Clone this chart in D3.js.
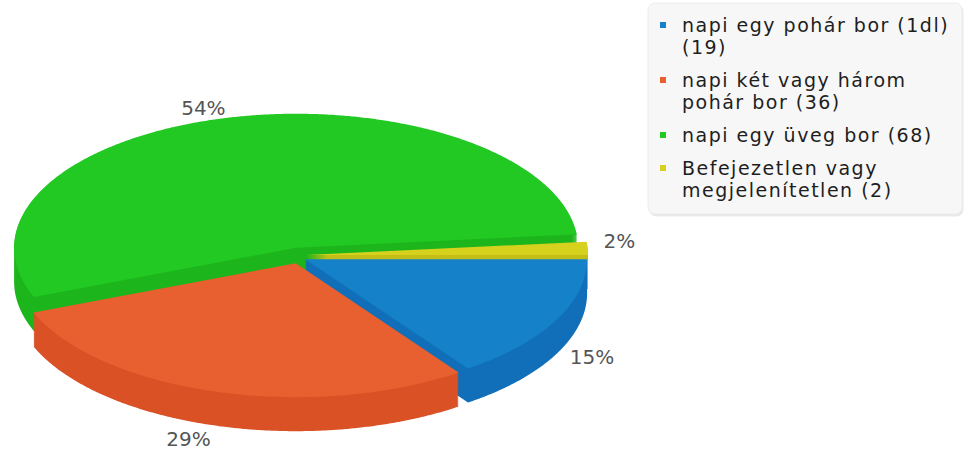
<!DOCTYPE html>
<html>
<head>
<meta charset="utf-8">
<script src="https://cdn.jsdelivr.net/npm/d3@7"></script>
<style>
  html, body { margin: 0; padding: 0; background: #ffffff; }
  svg { display: block; }
  text { font-family: "DejaVu Sans", sans-serif; }
</style>
</head>
<body>
<svg id="chart" width="966" height="452"></svg>
<script>
// Answers and their counts
const categories = [
  "napi egy pohár bor (1dl)",
  "napi két vagy három pohár bor",
  "napi egy üveg bor",
  "Befejezetlen vagy megjelenítetlen"
];
const counts = [19, 36, 68, 2];

// Slice colours: top face and darker extruded side
const topColors  = ["#1581c9", "#e8602f", "#22c922", "#d6d11c"];
const sideColors = ["#106fb8", "#da5126", "#1cb51c", "#c3be15"];

// Pie geometry (flattened 3D disc)
const cx = 298, cy = 255.5;    // centre of the disc
const rx = 282, ry = 134;      // horizontal / vertical radius
const depth = 34;              // thickness of the disc
const explode = 8;             // distance every slice is pulled out

const svg = d3.select("#chart");
const total = d3.sum(counts);

// Angles run clockwise from 3 o'clock
const pie = d3.pie().sort(null)
  .startAngle(Math.PI / 2)
  .endAngle(Math.PI / 2 + 2 * Math.PI);
const arcs = pie(counts);

// Unit circle -> screen ellipse
const xScale = d3.scaleLinear().domain([-1, 1]).range([cx - rx, cx + rx]);
const yScale = d3.scaleLinear().domain([-1, 1]).range([cy - ry, cy + ry]);

const slices = arcs.map((a, i) => {
  const t0 = a.startAngle - Math.PI / 2;
  const t1 = a.endAngle - Math.PI / 2;
  const m = (t0 + t1) / 2;
  const dx = explode * Math.cos(m), dy = explode * Math.sin(m);
  const apex = [cx + dx, cy + dy];
  const pts = [apex];
  const n = Math.max(2, Math.ceil((t1 - t0) / (0.4 * Math.PI / 180)));
  for (let k = 0; k <= n; k++) {
    const t = t0 + (t1 - t0) * k / n;
    pts.push([xScale(Math.cos(t)) + dx, yScale(Math.sin(t)) + dy]);
  }
  return { i, m, dx, dy, apex, pts, value: a.value };
});

const ring = (pts, off) =>
  "M" + pts.map(p => p[0].toFixed(2) + "," + (p[1] + off).toFixed(2)).join("L") + "Z";

// Back slices first so the front ones cover them
const order = slices.slice().sort((a, b) => Math.sin(a.m) - Math.sin(b.m));

const pieG = svg.append("g");
order.forEach(s => {
  let side = "";
  for (let off = depth; off >= 1; off--) side += ring(s.pts, off);
  pieG.append("path").attr("d", side).attr("fill", sideColors[s.i]);
  pieG.append("path").attr("d", ring(s.pts, 0)).attr("fill", topColors[s.i]);
});

// Percentage labels around the disc
const labelRx = rx + 16;
slices.forEach(s => {
  const pct = Math.round(s.value / total * 100) + "%";
  const c = Math.cos(s.m), sn = Math.sin(s.m);
  const x = cx + s.dx + c * labelRx;
  const y = sn > 0
    ? cy + s.dy + sn * (ry + 21) + depth      // below the front rim
    : cy + s.dy + sn * (ry + 3);              // above the back rim
  svg.append("text")
    .attr("x", x).attr("y", y)
    .attr("text-anchor", c < 0 ? "end" : "start")
    .attr("font-size", 20)
    .attr("fill", "#555555")
    .text(pct);
});

// Legend
const legend = svg.append("g");
legend.append("rect")
  .attr("x", 649.5).attr("y", 4.5).attr("width", 314).attr("height", 212)
  .attr("rx", 7).attr("fill", "#e9e9e9");
legend.append("rect")
  .attr("x", 648).attr("y", 3).attr("width", 314).attr("height", 211)
  .attr("rx", 7).attr("fill", "#f7f7f7").attr("stroke", "#ececec");

const fontSize = 19, spacing = 1.5;
const textX = 682, maxWidth = 282, lineH = 22, entryGap = 11;
let baseY = 32;
categories.forEach((cat, i) => {
  const words = (cat + " (" + counts[i] + ")").split(" ");
  const lines = [];
  let cur = "";
  const probe = legend.append("text")
    .attr("font-size", fontSize).attr("letter-spacing", spacing);
  words.forEach(w => {
    const tryLine = cur ? cur + " " + w : w;
    probe.text(tryLine);
    if (cur && probe.node().getComputedTextLength() > maxWidth) {
      lines.push(cur);
      cur = w;
    } else {
      cur = tryLine;
    }
  });
  lines.push(cur);
  probe.remove();

  legend.append("rect")
    .attr("x", 660).attr("y", baseY - 10).attr("width", 6).attr("height", 6)
    .attr("fill", topColors[i]);
  lines.forEach((ln, j) => {
    legend.append("text")
      .attr("x", textX).attr("y", baseY + j * lineH)
      .attr("font-size", fontSize).attr("letter-spacing", spacing)
      .attr("fill", "#1e1e1e")
      .text(ln);
  });
  baseY += lines.length * lineH + entryGap;
});
</script>
</body>
</html>
